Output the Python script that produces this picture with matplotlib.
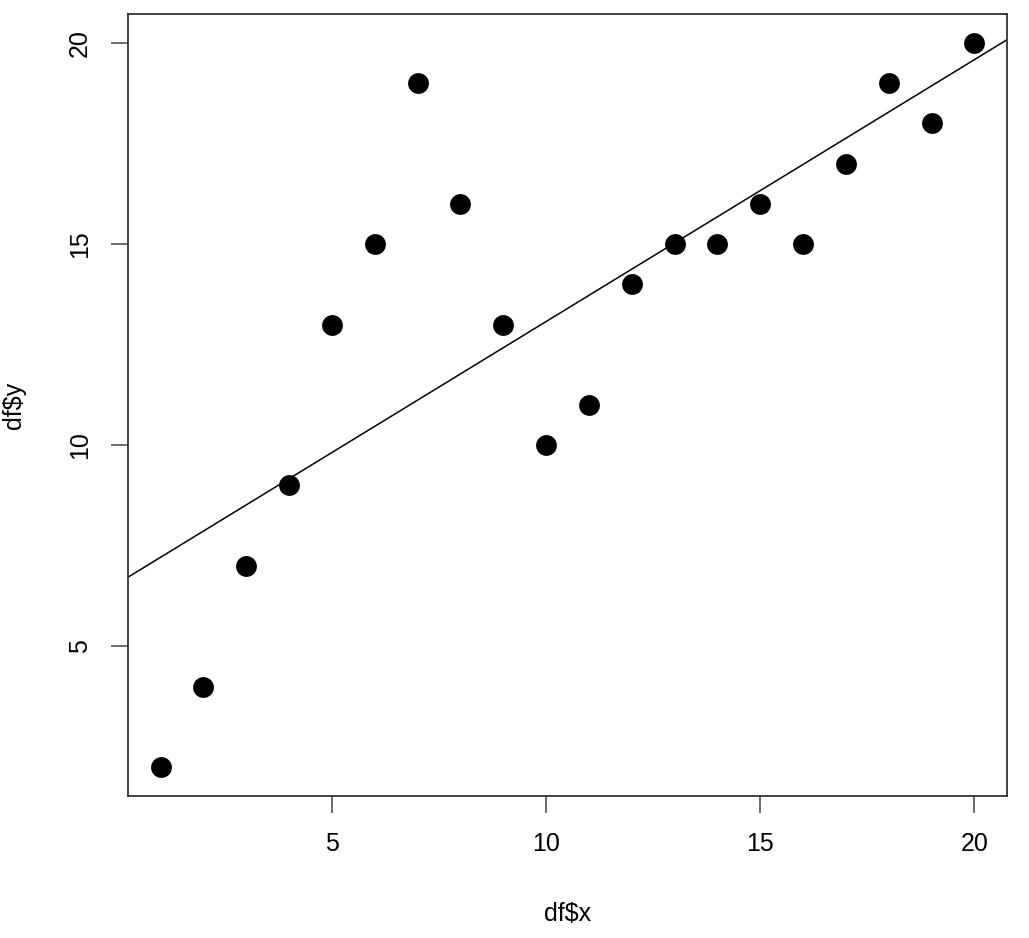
import numpy as np
import matplotlib.pyplot as plt

# data
x = np.arange(1, 21)
y = np.array([2, 4, 7, 9, 13, 15, 19, 16, 13, 10, 11, 14, 15, 15, 16, 15, 17, 19, 18, 20])
x_ticks = [5, 10, 15, 20]
y_ticks = [5, 10, 15, 20]

plt.rcParams['font.family'] = ['Liberation Sans', 'DejaVu Sans']

fig = plt.figure(figsize=(10.29, 9.38), dpi=100)
ax = fig.add_axes([128 / 1029, 1 - 796 / 938, (1007 - 128) / 1029, (796 - 14) / 938])

ax.scatter(x, y, s=15 ** 2, color='black', zorder=3, linewidths=0)

# least squares line, like abline(lm(y ~ x))
slope, intercept = np.polyfit(x, y, 1)
ax.axline((0, intercept), slope=slope, color='black', lw=1.1)

# R-style 4% padding
xr = x.max() - x.min()
yr = y.max() - y.min()
ax.set_xlim(x.min() - 0.04 * xr, x.max() + 0.04 * xr)
ax.set_ylim(y.min() - 0.04 * yr, y.max() + 0.04 * yr)

ax.set_xticks(x_ticks)
ax.set_yticks(y_ticks)
ax.tick_params(axis='both', length=12, width=1.1, color='#444444', labelsize=18, pad=14)
for lab in ax.get_yticklabels():
    lab.set_rotation(90)
    lab.set_va('center')
for sp in ax.spines.values():
    sp.set_linewidth(1.3)
    sp.set_color('#333333')

ax.set_xlabel('df$x', fontsize=18, labelpad=33)
ax.set_ylabel('df$y', fontsize=18, labelpad=30)

fig.savefig('out.png', dpi=100)
